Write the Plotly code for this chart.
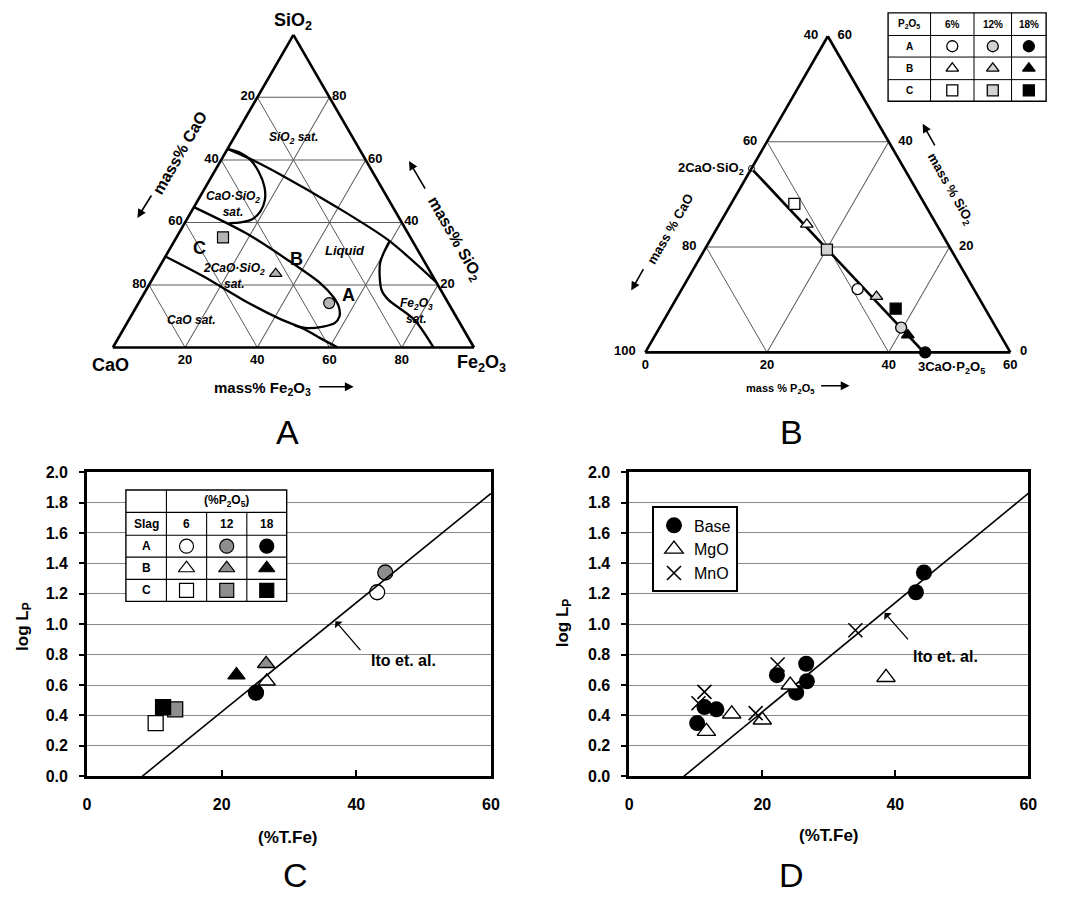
import plotly.graph_objects as go

W, H = 1065, 905
FONT = "Liberation Sans, Arial, Helvetica, sans-serif"

# ---------------- Panel A : CaO-SiO2-Fe2O3 system (mass%) ----------------
A_cs_sat_SiO2 = [63.5, 62.4, 60.0, 56.3, 51.5, 47.2, 43.5, 41.0, 40.0, 39.8]
A_cs_sat_Fe2O3 = [0.0, 3.8, 8.1, 12.2, 16.2, 18.5, 19.1, 18.1, 15.4, 12.4]
A_si_sat_SiO2 = [63.5, 60.0, 55.2, 45.6, 34.4, 20.8]
A_si_sat_Fe2O3 = [0.0, 8.6, 19.0, 38.2, 59.0, 79.2]
A_c2s_SiO2 = [44.9, 36.6, 28.0, 20.6, 16.3, 13.1, 9.9, 7.8, 6.7, 6.2, 7.0]
A_c2s_Fe2O3 = [0.0, 18.5, 34.4, 47.1, 52.8, 56.0, 57.8, 57.5, 54.9, 50.7, 46.9]
A_cao_sat_SiO2 = [29.1, 22.7, 15.3, 9.4, 5.9, 3.0, 0.0]
A_cao_sat_Fe2O3 = [0.0, 13.8, 28.3, 41.1, 50.0, 55.9, 62.3]
A_fe_sat_SiO2 = [33.9, 27.0, 18.4, 15.3, 8.9, 0.0]
A_fe_sat_Fe2O3 = [59.6, 60.5, 65.2, 68.6, 79.0, 88.8]
slag_names = ["A", "B", "C"]
A_slag_SiO2 = [14.2, 23.6, 35.2]
A_slag_Fe2O3 = [52.8, 33.3, 12.9]

# ---------------- Panel B : CaO-SiO2-P2O5 (mass%) ----------------
p2o5_levels = ["6%", "12%", "18%"]
B_tie_SiO2 = [34.9, 0.0]          # 2CaO.SiO2 -> 3CaO.P2O5
B_tie_P2O5 = [0.0, 45.8]
B_slagA_SiO2 = [12.0, 4.7, 0.0]
B_slagA_P2O5 = [28.9, 39.7, 46.0]
B_slagB_SiO2 = [24.3, 10.6, 3.3]
B_slagB_P2O5 = [14.4, 32.7, 41.5]
B_slagC_SiO2 = [28.2, 19.5, 8.3]
B_slagC_P2O5 = [10.4, 20.1, 37.0]

# ---------------- Panels C / D : log Lp vs (%T.Fe) ----------------
C_slagA_TFe = [43.1, 44.3, 25.1]
C_slagA_logLp = [1.21, 1.34, 0.55]
C_slagB_TFe = [26.7, 26.6, 22.2]
C_slagB_logLp = [0.625, 0.74, 0.665]
C_slagC_TFe = [10.2, 13.1, 11.3]
C_slagC_logLp = [0.35, 0.44, 0.455]
D_MgO_TFe = [38.6, 24.2, 20.0, 15.4, 11.6]
D_MgO_logLp = [0.65, 0.60, 0.37, 0.41, 0.295]
D_MnO_TFe = [34.0, 22.3, 19.0, 11.3, 10.4]
D_MnO_logLp = [0.96, 0.735, 0.415, 0.555, 0.48]
ito_TFe = [8.2, 60.0]
ito_logLp = [0.0, 1.86]
x_ticks = [0, 20, 40, 60]

# ---------------- styles ----------------
slag_symbols = {"A": "circle", "B": "triangle-up", "C": "square"}
fill_B = ["white", "#d2d2d2", "black"]
fill_C = ["white", "#8e8e8e", "black"]
hatch = "#b4b4b4"
NB = "\u00a0"

fig = go.Figure()


def rest(*parts):
    return [100 - sum(v) for v in zip(*parts)]


# ----- panel A curves -----
for si, fe in [(A_cs_sat_SiO2, A_cs_sat_Fe2O3), (A_si_sat_SiO2, A_si_sat_Fe2O3),
               (A_c2s_SiO2, A_c2s_Fe2O3), (A_cao_sat_SiO2, A_cao_sat_Fe2O3),
               (A_fe_sat_SiO2, A_fe_sat_Fe2O3)]:
    fig.add_trace(go.Scatterternary(a=si, b=rest(si, fe), c=fe, mode="lines",
                                    line=dict(color="black", width=2.3, shape="spline", smoothing=0.8),
                                    subplot="ternary", showlegend=False, hoverinfo="skip"))
fig.add_trace(go.Scatterternary(a=A_slag_SiO2, b=rest(A_slag_SiO2, A_slag_Fe2O3), c=A_slag_Fe2O3,
                                mode="markers", subplot="ternary", showlegend=False, cliponaxis=False,
                                marker=dict(symbol=[slag_symbols[s] for s in slag_names], size=11,
                                            color=hatch, line=dict(color="black", width=1.2))))

# ----- panel B -----
fig.add_trace(go.Scatterternary(a=B_tie_SiO2, b=rest(B_tie_SiO2, B_tie_P2O5), c=B_tie_P2O5,
                                mode="lines", line=dict(color="black", width=2.6),
                                subplot="ternary2", showlegend=False, cliponaxis=False))
fig.add_trace(go.Scatterternary(a=B_tie_SiO2[:1], b=rest(B_tie_SiO2[:1], B_tie_P2O5[:1]), c=B_tie_P2O5[:1],
                                mode="markers", subplot="ternary2", showlegend=False, cliponaxis=False,
                                marker=dict(symbol="circle", size=6, color="white",
                                            line=dict(color="black", width=1))))
for name, si, p in [("A", B_slagA_SiO2, B_slagA_P2O5), ("B", B_slagB_SiO2, B_slagB_P2O5),
                    ("C", B_slagC_SiO2, B_slagC_P2O5)]:
    fig.add_trace(go.Scatterternary(a=si, b=rest(si, p), c=p, mode="markers", subplot="ternary2",
                                    showlegend=False, cliponaxis=False,
                                    marker=dict(symbol=slag_symbols[name], size=11, color=fill_B,
                                                line=dict(color="black", width=1.3))))

# ----- panel C -----
for name, tfe, lp in [("A", C_slagA_TFe, C_slagA_logLp), ("B", C_slagB_TFe, C_slagB_logLp),
                      ("C", C_slagC_TFe, C_slagC_logLp)]:
    fig.add_trace(go.Scatter(x=tfe, y=lp, mode="markers", xaxis="x", yaxis="y", showlegend=False,
                             marker=dict(symbol=slag_symbols[name], size=15, color=fill_C,
                                         line=dict(color="black", width=1.3))))
fig.add_trace(go.Scatter(x=ito_TFe, y=ito_logLp, mode="lines", xaxis="x", yaxis="y",
                         line=dict(color="black", width=1.6), showlegend=False))

# ----- panel D -----
fig.add_trace(go.Scatter(x=ito_TFe, y=ito_logLp, mode="lines", xaxis="x2", yaxis="y2",
                         line=dict(color="black", width=1.6), showlegend=False))
fig.add_trace(go.Scatter(x=C_slagA_TFe + C_slagB_TFe + C_slagC_TFe,
                         y=C_slagA_logLp + C_slagB_logLp + C_slagC_logLp,
                         mode="markers", xaxis="x2", yaxis="y2", name="Base",
                         marker=dict(symbol="circle", size=16, color="black")))
fig.add_trace(go.Scatter(x=D_MgO_TFe, y=D_MgO_logLp, mode="markers", xaxis="x2", yaxis="y2", name="MgO",
                         marker=dict(symbol="triangle-up", size=16, color="white",
                                     line=dict(color="black", width=1.4))))
fig.add_trace(go.Scatter(x=D_MnO_TFe, y=D_MnO_logLp, mode="markers", xaxis="x2", yaxis="y2", name="MnO",
                         marker=dict(symbol="x-thin", size=14, color="black",
                                     line=dict(color="black", width=1.6))))

# ----- legend tables (positions are layout constants) -----
tblC_x = [5.78, 11.8, 17.77, 23.74, 29.66]
tblC_y = [1.882, 1.735, 1.585, 1.441, 1.295, 1.15]
tblB_x = [895, 938, 982, 1020, 1055]
tblB_y = [5, 28, 50, 73, 95]

shapes = []
annotations = []

# C table
shapes.append(dict(type="rect", xref="x", yref="y", x0=tblC_x[0], x1=tblC_x[-1], y0=tblC_y[-1], y1=tblC_y[0],
                   fillcolor="white", line=dict(color="black", width=1.4), layer="between"))
for yy in tblC_y[1:-1]:
    shapes.append(dict(type="line", xref="x", yref="y", x0=tblC_x[0], x1=tblC_x[-1], y0=yy, y1=yy,
                       line=dict(color="black", width=1.1), layer="between"))
shapes.append(dict(type="line", xref="x", yref="y", x0=tblC_x[1], x1=tblC_x[1], y0=tblC_y[-1], y1=tblC_y[0],
                   line=dict(color="black", width=1.1), layer="between"))
for xx in tblC_x[2:-1]:
    shapes.append(dict(type="line", xref="x", yref="y", x0=xx, x1=xx, y0=tblC_y[-1], y1=tblC_y[1],
                       line=dict(color="black", width=1.1), layer="between"))


def cmid(edges, i):
    return (edges[i] + edges[i + 1]) / 2


annotations.append(dict(x=(tblC_x[1] + tblC_x[-1]) / 2, y=cmid(tblC_y, 0), xref="x", yref="y",
                        text="(%P<sub>2</sub>O<sub>5</sub>)", showarrow=False,
                        font=dict(size=12, family=FONT, color="black", weight="bold")))
for i, t in enumerate(["Slag", "6", "12", "18"]):
    annotations.append(dict(x=cmid(tblC_x, i), y=cmid(tblC_y, 1), xref="x", yref="y", text=t, showarrow=False,
                            font=dict(size=12, family=FONT, color="black", weight="bold")))
for r, name in enumerate(slag_names):
    annotations.append(dict(x=cmid(tblC_x, 0), y=cmid(tblC_y, r + 2), xref="x", yref="y", text=name,
                            showarrow=False, font=dict(size=12, family=FONT, color="black", weight="bold")))
    fig.add_trace(go.Scatter(x=[cmid(tblC_x, k + 1) for k in range(3)], y=[cmid(tblC_y, r + 2)] * 3,
                             mode="markers", xaxis="x", yaxis="y", showlegend=False, hoverinfo="skip",
                             marker=dict(symbol=slag_symbols[name], size=14, color=fill_C,
                                         line=dict(color="black", width=1.2))))

# B table (pixel coordinates on an invisible overlay axis)
shapes.append(dict(type="rect", xref="x3", yref="y3", x0=tblB_x[0], x1=tblB_x[-1], y0=tblB_y[0], y1=tblB_y[-1],
                   fillcolor="white", line=dict(color="black", width=1.4), layer="below"))
for yy in tblB_y[1:-1]:
    shapes.append(dict(type="line", xref="x3", yref="y3", x0=tblB_x[0], x1=tblB_x[-1], y0=yy, y1=yy,
                       line=dict(color="black", width=1), layer="below"))
for xx in tblB_x[1:-1]:
    shapes.append(dict(type="line", xref="x3", yref="y3", x0=xx, x1=xx, y0=tblB_y[0], y1=tblB_y[-1],
                       line=dict(color="black", width=1), layer="below"))
for i, t in enumerate(["P<sub>2</sub>O<sub>5</sub>"] + p2o5_levels):
    annotations.append(dict(x=cmid(tblB_x, i), y=cmid(tblB_y, 0), xref="x3", yref="y3", text=t, showarrow=False,
                            font=dict(size=10, family=FONT, color="black", weight="bold")))
for r, name in enumerate(slag_names):
    annotations.append(dict(x=cmid(tblB_x, 0), y=cmid(tblB_y, r + 1), xref="x3", yref="y3", text=name,
                            showarrow=False, font=dict(size=10, family=FONT, color="black", weight="bold")))
    fig.add_trace(go.Scatter(x=[cmid(tblB_x, k + 1) for k in range(3)], y=[cmid(tblB_y, r + 1)] * 3,
                             mode="markers", xaxis="x3", yaxis="y3", showlegend=False, hoverinfo="skip",
                             cliponaxis=False,
                             marker=dict(symbol=slag_symbols[name], size=11, color=fill_B,
                                         line=dict(color="black", width=1.3))))


# ----- text labels (pixel positions -> paper) -----
def note(text, x, y, size, bold=True, angle=0, xanchor="center"):
    annotations.append(dict(x=x / W, y=1 - y / H, xref="paper", yref="paper", text=text, showarrow=False,
                            textangle=angle, xanchor=xanchor, yanchor="middle",
                            font=dict(size=size, family=FONT, color="black",
                                      weight="bold" if bold else "normal")))


def arrow(tail, head):
    annotations.append(dict(x=head[0] / W, y=1 - head[1] / H, xref="paper", yref="paper", text="",
                            showarrow=True, ax=tail[0] - head[0], ay=tail[1] - head[1],
                            arrowhead=2, arrowsize=1.1, arrowwidth=1.6, arrowcolor="black",
                            font=dict(size=10)))


# panel A
note("SiO<sub>2</sub>", 293, 14, 18)
note("CaO", 108, 364, 18)
note("Fe<sub>2</sub>O<sub>3</sub>", 483, 362, 18)
note("mass% CaO", 178, 147, 16, angle=-60)
arrow((150, 190), (135, 214))
note("mass% SiO<sub>2</sub>", 456, 235, 16, angle=60)
arrow((427, 185), (410, 156))
note("mass% Fe<sub>2</sub>O<sub>3</sub>", 262, 388, 15)
arrow((318, 386), (354, 386))
note("<i>SiO<sub>2</sub> sat.</i>", 293, 132, 12)
note("<i>CaO·SiO<sub>2</sub><br>sat.</i>", 232, 200, 12)
note("<i>Liquid</i>", 345, 247, 13)
note("<i>2CaO·SiO<sub>2</sub><br>sat.</i>", 233, 273, 12)
note("<i>CaO sat.</i>", 190, 318, 12)
note("<i>Fe<sub>2</sub>O<sub>3</sub><br>sat.</i>", 418, 309, 12)
note("C", 198, 245, 18)
note("B", 296, 256, 18)
note("A", 349, 293, 18)

# panel B
note("mass % CaO", 675, 225, 13, angle=-60)
arrow((648, 265), (635, 288))
note("mass % SiO<sub>2</sub>", 958, 185, 13, angle=60)
arrow((943, 141), (930, 118))
note("mass % P<sub>2</sub>O<sub>5</sub>", 786, 388, 11)
arrow((826, 385), (856, 385))
note("2CaO·SiO<sub>2</sub>", 751, 164, 13, xanchor="right")
note("3CaO·P<sub>2</sub>O<sub>5</sub>", 959, 366, 13)

# panels C, D
note("log L<sub>P</sub>", 20, 630, 17, angle=-90)
note("(%T.Fe)", 288, 845, 17)
note("log L<sub>P</sub>", 567, 627, 17, angle=-90)
note("(%T.Fe)", 835, 843, 17)
for ax_x, ax_y, head, tail, txt in [("x", "y", (36.9, 1.02), (40.8, 0.82), (47.0, 0.76)),
                                     ("x2", "y2", (38.4, 1.075), (42.1, 0.89), (47.6, 0.785))]:
    annotations.append(dict(x=head[0], y=head[1], xref=ax_x, yref=ax_y, axref=ax_x, ayref=ax_y,
                            ax=tail[0], ay=tail[1], text="", showarrow=True, arrowhead=1,
                            arrowsize=1.3, arrowwidth=1.3, arrowcolor="black", font=dict(size=10)))
    annotations.append(dict(x=txt[0], y=txt[1], xref=ax_x, yref=ax_y, text="Ito et. al.", showarrow=False,
                            font=dict(size=16, family=FONT, color="black", weight="bold")))

# panel letters
note("A", 287, 432, 34, bold=False)
note("B", 797, 432, 34, bold=False)
note("C", 295, 884, 34, bold=False)
note("D", 797, 884, 34, bold=False)

# ----- axes -----
tick_font = dict(size=16, family=FONT, color="black", weight="bold")


def tern_axis(vals, texts, size, amin=0):
    return dict(tickmode="array", tickvals=vals, ticktext=texts, min=amin, showline=True, linecolor="black",
                linewidth=2.6, showgrid=True, gridcolor="#5a5a5a", gridwidth=0.9, ticks="",
                tickfont=dict(size=size, family=FONT, color="black", weight="bold"), title=dict(text=""))


tick20 = [20, 40, 60, 80]
fig.update_layout(
    ternary=dict(domain=dict(x=[109 / W, 477 / W], y=[1 - 346 / H, 1 - 27.3 / H]), sum=100, bgcolor="white",
                 aaxis=tern_axis(tick20, [str(100 - v) for v in tick20], 13),
                 baxis=tern_axis(tick20, [str(100 - v) for v in tick20], 13),
                 caxis=tern_axis(tick20, [str(100 - v) for v in tick20], 13)),
    ternary2=dict(domain=dict(x=[648 / W, 1020 / W], y=[1 - 351 / H, 1 - 28.8 / H]), sum=100, bgcolor="white",
                  aaxis=tern_axis([0, 20, 40, 60], [t + NB * 2 for t in ["100", "80", "60", "40"]], 13),
                  baxis=tern_axis([40, 60, 80, 100], ["60", "40", "20", "0"], 13, amin=40),
                  caxis=tern_axis([0, 20, 40, 60], [NB * 2 + t for t in ["60", "40", "20", "0"]], 13)),
)

common_x = dict(range=[0, 60], tickvals=x_ticks, ticks="inside", ticklen=6, tickwidth=2, tickcolor="black",
                showline=True, linecolor="black", linewidth=2.6, mirror=True, showgrid=False, zeroline=False,
                tickfont=tick_font, ticklabelstandoff=12)
common_y = dict(range=[0, 2.0], dtick=0.2, tick0=0, tickformat=".1f", ticks="outside", ticklen=5, tickwidth=2,
                tickcolor="black", showline=True, linecolor="black", linewidth=2.6, mirror=True,
                showgrid=True, gridcolor="#8a8a8a", gridwidth=1.2, zeroline=False, tickfont=tick_font,
                ticklabelstandoff=8)

fig.update_layout(
    xaxis=dict(domain=[84 / W, 493 / W], anchor="y", **common_x),
    yaxis=dict(domain=[1 - 783 / H, 1 - 473 / H], anchor="x", **common_y),
    xaxis2=dict(domain=[633 / W, 1037 / W], anchor="y2", **common_x),
    yaxis2=dict(domain=[1 - 783 / H, 1 - 473 / H], anchor="x2", **common_y),
    xaxis3=dict(domain=[0, 1], range=[0, W], visible=False, fixedrange=True, anchor="y3"),
    yaxis3=dict(domain=[0, 1], range=[H, 0], visible=False, fixedrange=True, anchor="x3"),
    width=W, height=H, margin=dict(l=0, r=0, t=0, b=0),
    paper_bgcolor="white", plot_bgcolor="rgba(0,0,0,0)",
    showlegend=True,
    legend=dict(x=656 / W, y=1 - 508 / H, xanchor="left", yanchor="top", bgcolor="white",
                bordercolor="black", borderwidth=2, font=dict(size=16, family=FONT, color="black"),
                tracegroupgap=0, itemwidth=30),
    shapes=shapes, annotations=annotations,
    font=dict(family=FONT, color="black"),
)

fig.write_html("out.html", config={"displayModeBar": False},
               post_script="document.body.style.margin='0px';document.body.style.overflow='hidden';")
